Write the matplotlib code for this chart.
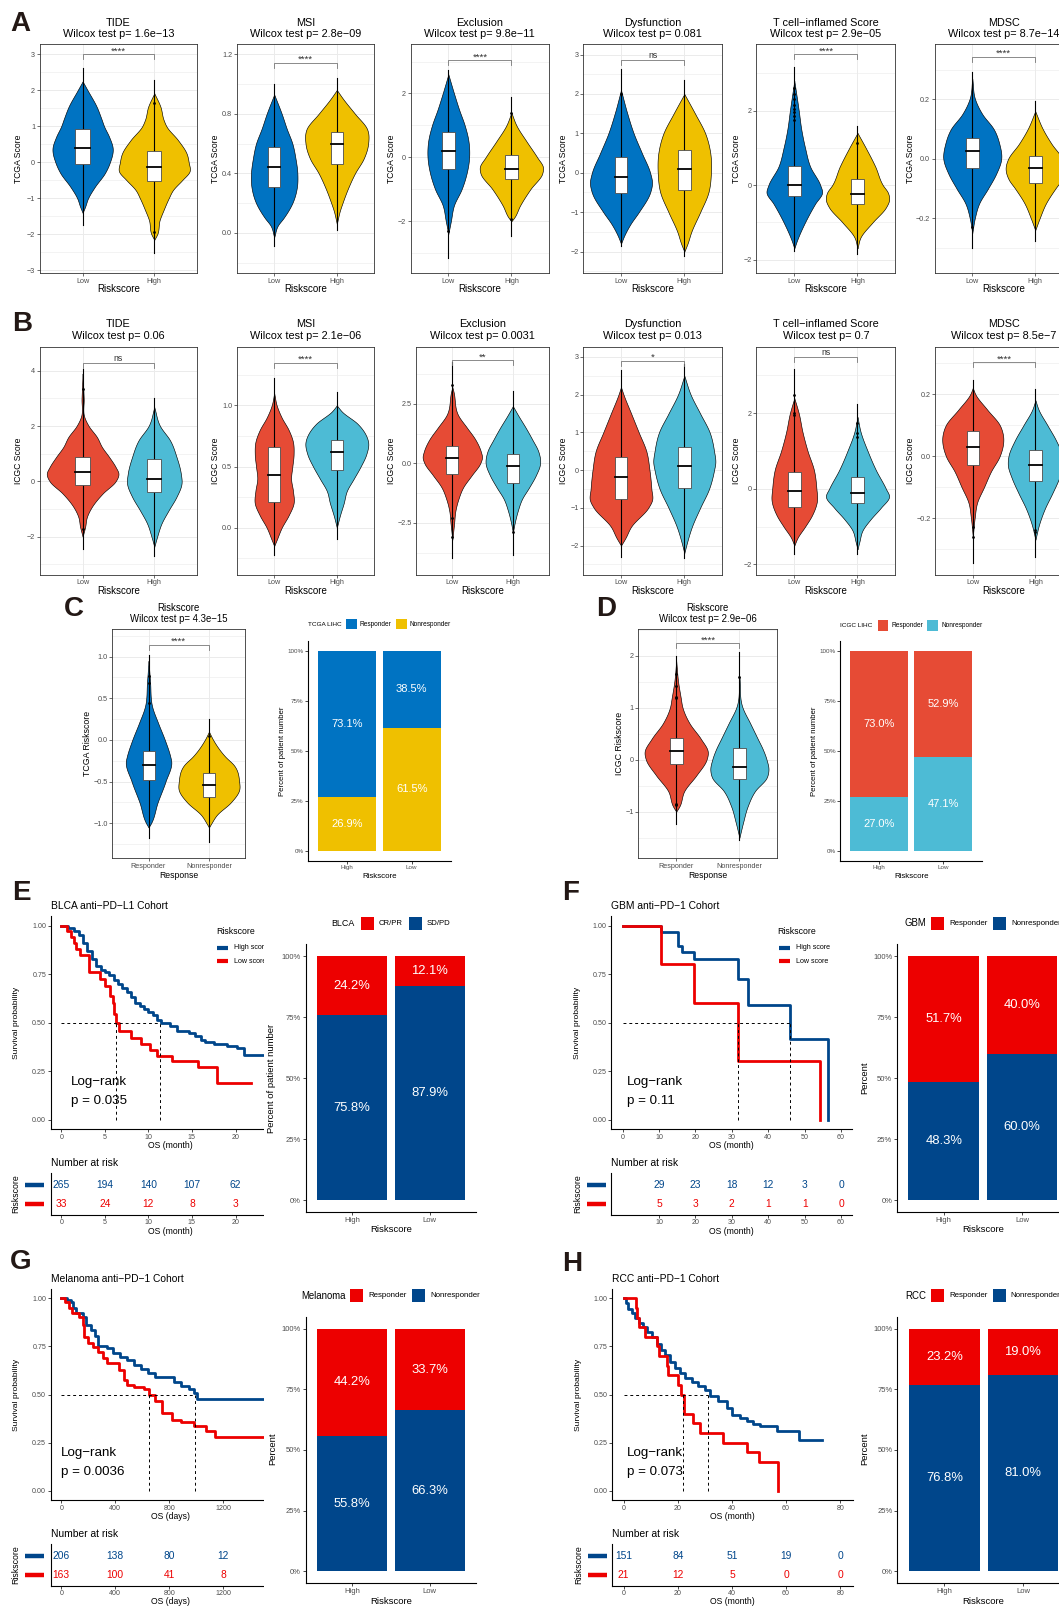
import numpy as np
import matplotlib.pyplot as plt
import matplotlib.transforms as mtransforms
from matplotlib.lines import Line2D
from matplotlib.patches import Rectangle

W, H = 1059, 1607
MINUS = "\u2212"

JCO_BLUE, JCO_YELLOW = "#0073C2", "#EFC000"
NPG_RED, NPG_CYAN = "#E64B35", "#4DBBD5"
LAN_BLUE, LAN_RED = "#00468B", "#ED0000"
GREY30 = "#4D4D4D"

# ---------------- A / B : immune scores by risk group ----------------
score_names = ["TIDE", "MSI", "Exclusion", "Dysfunction", "T cell" + MINUS + "inflamed Score", "MDSC"]
a_pvals = ["1.6e-13", "2.8e-09", "9.8e-11", "0.081", "2.9e-05", "8.7e-14"]
a_sig = ["****", "****", "****", "ns", "****", "****"]
b_pvals = ["0.06", "2.1e-06", "0.0031", "0.013", "0.7", "8.5e-7"]
b_sig = ["ns", "****", "**", "*", "ns", "****"]

a_ylim = [(-3.08, 3.28), (-0.272, 1.267), (-3.63, 3.54), (-2.55, 3.26), (-2.37, 3.78), (-0.385, 0.385)]
a_ticks = [[-3, -2, -1, 0, 1, 2, 3], [0, 0.4, 0.8, 1.2], [-2, 0, 2], [-2, -1, 0, 1, 2, 3], [-2, 0, 2], [-0.2, 0, 0.2]]
a_dec = [0, 1, 0, 0, 0, 1]
a_minor = [0.5, 0.2, 1, 0.5, 1, 0.1]
a_bracket = [3.0, 1.144, 3.04, 2.86, 3.51, 0.343]

# violin outlines: score levels and half widths (Low = blue, High = yellow)
a_low_y = [
    [-1.4, -1.23, -1.0, -0.68, -0.3, 0.0, 0.39, 0.71, 1.0, 1.22, 1.55, 2.0, 2.25],
    [-0.03, 0.05, 0.1, 0.2, 0.3, 0.4, 0.5, 0.6, 0.7, 0.8, 0.93],
    [-2.4, -2.0, -1.5, -1.0, -0.5, 0.0, 0.5, 1.0, 1.5, 2.0, 2.6],
    [-1.8, -1.6, -1.3, -1.0, -0.5, -0.25, 0.0, 0.5, 1.0, 1.5, 2.1],
    [-1.7, -1.5, -1.0, -0.5, -0.2, 0.0, 0.5, 1.0, 1.5, 2.0, 2.8],
    [-0.25, -0.2, -0.15, -0.1, -0.05, 0.0, 0.05, 0.1, 0.15, 0.2, 0.27],
]
a_low_w = [
    [0, 0.035, 0.075, 0.17, 0.31, 0.38, 0.42, 0.37, 0.30, 0.26, 0.195, 0.07, 0],
    [0, 0.06, 0.15, 0.29, 0.36, 0.37, 0.34, 0.29, 0.20, 0.12, 0],
    [0, 0.04, 0.09, 0.21, 0.29, 0.33, 0.32, 0.26, 0.17, 0.09, 0],
    [0, 0.05, 0.15, 0.28, 0.46, 0.49, 0.46, 0.33, 0.20, 0.10, 0],
    [0, 0.04, 0.17, 0.33, 0.44, 0.41, 0.25, 0.17, 0.11, 0.07, 0],
    [0, 0.04, 0.11, 0.25, 0.38, 0.46, 0.43, 0.34, 0.16, 0.045, 0],
]
a_high_y = [
    [-2.15, -2.0, -1.6, -1.32, -1.0, -0.77, -0.49, -0.26, 0.0, 0.25, 0.62, 1.0, 1.18, 1.55, 1.92],
    [0.06, 0.15, 0.2, 0.3, 0.4, 0.5, 0.6, 0.7, 0.8, 0.9, 0.96],
    [-2.0, -1.9, -1.5, -1.0, -0.5, -0.3, 0.0, 0.5, 1.0, 1.4],
    [-2.0, -1.8, -1.5, -1.0, -0.5, 0.0, 0.5, 1.0, 1.5, 2.0],
    [-1.7, -1.4, -1.0, -0.6, -0.4, -0.2, 0.0, 0.5, 1.0, 1.4],
    [-0.24, -0.2, -0.15, -0.1, -0.07, -0.03, 0.0, 0.05, 0.1, 0.16],
]
a_high_w = [
    [0, 0.04, 0.075, 0.13, 0.20, 0.26, 0.39, 0.49, 0.48, 0.45, 0.33, 0.17, 0.13, 0.085, 0],
    [0, 0.05, 0.09, 0.18, 0.29, 0.43, 0.50, 0.48, 0.29, 0.10, 0],
    [0, 0.04, 0.14, 0.30, 0.49, 0.50, 0.41, 0.24, 0.08, 0],
    [0, 0.05, 0.11, 0.25, 0.38, 0.42, 0.41, 0.33, 0.17, 0],
    [0, 0.05, 0.24, 0.45, 0.50, 0.48, 0.40, 0.28, 0.13, 0],
    [0, 0.07, 0.17, 0.32, 0.42, 0.47, 0.43, 0.26, 0.12, 0],
]
a_low_box = [(-0.05, 0.41, 0.94), (0.31, 0.44, 0.58), (-0.37, 0.20, 0.79),
             (-0.52, -0.11, 0.39), (-0.30, 0.0, 0.52), (-0.03, 0.025, 0.07)]
a_high_box = [(-0.53, -0.12, 0.31), (0.46, 0.60, 0.68), (-0.69, -0.36, 0.06),
              (-0.44, 0.09, 0.57), (-0.51, -0.24, 0.15), (-0.08, -0.03, 0.01)]
a_low_rng = [(-1.74, 2.61), (-0.09, 1.0), (-3.16, 2.72), (-1.85, 2.63), (-1.76, 3.18), (-0.30, 0.293)]
a_high_rng = [(-2.53, 2.29), (0.02, 1.04), (-2.46, 1.9), (-2.1, 2.35), (-1.86, 1.58), (-0.276, 0.194)]
a_low_out = [[], [], [-2.3], [1.99], [1.75, 1.85, 1.95, 2.05, 2.15, 2.3, 2.45, 2.6], [-0.23]]
a_high_out = [[1.64, -1.94], [], [1.38, -1.94], [], [1.14], []]

b_ylim = [(-3.39, 4.87), (-0.387, 1.48), (-4.68, 4.89), (-2.78, 3.27), (-2.28, 3.76), (-0.384, 0.353)]
b_ticks = [[-2, 0, 2, 4], [0, 0.5, 1.0], [-2.5, 0, 2.5], [-2, -1, 0, 1, 2, 3], [-2, 0, 2], [-0.2, 0, 0.2]]
b_dec = [0, 1, 1, 0, 0, 1]
b_minor = [1, 0.25, 1.25, 0.5, 1, 0.1]
b_bracket = [4.27, 1.35, 4.32, 2.89, 3.48, 0.302]

b_low_y = [
    [-2.0, -1.65, -1.29, -0.92, -0.44, 0.0, 0.28, 0.52, 0.88, 1.24, 1.6, 2.0, 2.32, 3.0, 3.9],
    [-0.15, -0.1, 0.0, 0.1, 0.2, 0.3, 0.4, 0.5, 0.6, 0.7, 0.8, 0.9, 1.0, 1.1],
    [-3.2, -2.5, -2.0, -1.5, -1.0, -0.5, 0.0, 0.25, 0.5, 1.0, 1.5, 2.0, 3.0, 3.2],
    [-2.0, -1.8, -1.5, -1.0, -0.8, -0.5, 0.0, 0.5, 1.0, 1.5, 2.0, 2.2],
    [-1.5, -1.3, -1.0, -0.7, -0.3, 0.0, 0.5, 1.0, 1.5, 2.0, 2.4],
    [-0.26, -0.2, -0.15, -0.1, -0.05, 0.0, 0.07, 0.1, 0.15, 0.2, 0.22],
]
b_low_w = [
    [0, 0.035, 0.06, 0.13, 0.28, 0.46, 0.50, 0.46, 0.37, 0.27, 0.20, 0.085, 0.025, 0.015, 0],
    [0, 0.04, 0.12, 0.23, 0.31, 0.30, 0.27, 0.29, 0.31, 0.30, 0.23, 0.12, 0.04, 0],
    [0, 0.03, 0.05, 0.10, 0.18, 0.32, 0.46, 0.49, 0.47, 0.38, 0.24, 0.10, 0.02, 0],
    [0, 0.07, 0.16, 0.43, 0.49, 0.48, 0.45, 0.40, 0.28, 0.16, 0.04, 0],
    [0, 0.05, 0.17, 0.28, 0.36, 0.35, 0.31, 0.21, 0.13, 0.07, 0],
    [0, 0.03, 0.07, 0.18, 0.29, 0.43, 0.48, 0.43, 0.23, 0.04, 0],
]
b_high_y = [
    [-2.37, -2.0, -1.53, -1.05, -0.56, -0.08, 0.28, 0.88, 1.48, 2.0, 2.68],
    [0.0, 0.1, 0.2, 0.3, 0.4, 0.5, 0.6, 0.7, 0.75, 0.85, 0.95, 1.0],
    [-2.9, -2.5, -2.0, -1.5, -1.0, -0.5, 0.0, 0.5, 1.0, 1.5, 2.0, 2.4],
    [-2.2, -2.0, -1.5, -1.0, -0.5, 0.0, 0.2, 0.5, 1.0, 1.5, 2.0, 2.5],
    [-1.6, -1.4, -1.1, -0.8, -0.5, -0.2, 0.0, 0.5, 1.0, 1.5, 1.9],
    [-0.27, -0.22, -0.17, -0.12, -0.07, -0.03, 0.0, 0.05, 0.1, 0.15, 0.18],
]
b_high_w = [
    [0, 0.04, 0.10, 0.20, 0.31, 0.38, 0.37, 0.31, 0.22, 0.08, 0],
    [0, 0.05, 0.11, 0.16, 0.27, 0.38, 0.47, 0.50, 0.47, 0.33, 0.08, 0],
    [0, 0.03, 0.08, 0.15, 0.27, 0.38, 0.45, 0.42, 0.32, 0.21, 0.09, 0],
    [0, 0.03, 0.12, 0.25, 0.39, 0.47, 0.49, 0.47, 0.40, 0.25, 0.10, 0],
    [0, 0.03, 0.08, 0.21, 0.37, 0.50, 0.45, 0.29, 0.16, 0.05, 0],
    [0, 0.06, 0.15, 0.27, 0.38, 0.44, 0.43, 0.33, 0.19, 0.05, 0],
]
b_low_box = [(-0.12, 0.35, 0.88), (0.21, 0.43, 0.66), (-0.45, 0.24, 0.72),
             (-0.76, -0.19, 0.35), (-0.49, -0.06, 0.44), (-0.03, 0.03, 0.08)]
b_high_box = [(-0.40, 0.08, 0.80), (0.47, 0.62, 0.72), (-0.83, -0.13, 0.40),
              (-0.47, 0.12, 0.62), (-0.37, -0.11, 0.30), (-0.08, -0.03, 0.02)]
b_low_rng = [(-2.46, 4.08), (-0.22, 1.22), (-3.98, 4.26), (-2.3, 2.66), (-1.72, 3.16), (-0.344, 0.245)]
b_high_rng = [(-2.7, 3.0), (-0.09, 1.11), (-3.84, 3.04), (-2.32, 2.81), (-1.73, 2.25), (-0.327, 0.217)]
b_low_out = [[3.33, -1.71], [], [3.28, -2.3, -3.1], [], [2.47, 2.0, 1.96], [-0.23, -0.26]]
b_high_out = [[], [], [-2.89], [], [1.74, 1.47, 1.37], [-0.24, -0.245]]

# ---------------- C / D : riskscore by response ----------------
c_ylim, c_ticks, c_minor, c_bracket = (-1.42, 1.328), [-1, -0.5, 0, 0.5, 1], 0.25, 1.14
c_resp_y = [-1.05, -1.0, -0.75, -0.5, -0.25, -0.2, 0.0, 0.2, 0.4, 0.7, 0.95]
c_resp_w = [0, 0.04, 0.15, 0.28, 0.375, 0.36, 0.27, 0.16, 0.06, 0.025, 0]
c_non_y = [-1.05, -1.0, -0.9, -0.75, -0.6, -0.5, -0.3, -0.2, 0.0, 0.1]
c_non_w = [0, 0.04, 0.13, 0.36, 0.5, 0.5, 0.41, 0.27, 0.07, 0]
c_boxes = [(-0.48, -0.30, -0.13), (-0.69, -0.54, -0.40)]
c_rngs = [(-1.18, 1.02), (-1.23, 0.25)]
c_outs = [[0.77, 0.68, 0.44], [0.05]]

d_ylim, d_ticks, d_minor, d_bracket = (-1.897, 2.506), [-1, 0, 1, 2], 0.5, 2.24
d_resp_y = [-1.0, -0.9, -0.6, -0.3, 0.0, 0.15, 0.4, 0.7, 1.0, 1.2, 1.5, 1.9]
d_resp_w = [0, 0.05, 0.13, 0.32, 0.48, 0.5, 0.39, 0.21, 0.1, 0.07, 0.03, 0]
d_non_y = [-1.5, -1.2, -0.9, -0.6, -0.35, -0.2, 0.0, 0.2, 0.4, 0.7, 1.0, 1.6]
d_non_w = [0, 0.06, 0.13, 0.25, 0.43, 0.46, 0.43, 0.37, 0.29, 0.17, 0.05, 0]
d_boxes = [(-0.09, 0.17, 0.41), (-0.38, -0.14, 0.22)]
d_rngs = [(-1.24, 2.0), (-1.55, 2.06)]
d_outs = [[1.64, 1.42, 1.2, 1.18, -0.85, -0.88], [1.58]]

# stacked bars (percent, High / Low riskscore)
c_resp, c_non = [73.1, 38.5], [26.9, 61.5]
d_resp, d_non = [73.0, 52.9], [27.0, 47.1]
blca_resp, blca_non = [24.2, 12.1], [75.8, 87.9]
gbm_resp, gbm_non = [51.7, 40.0], [48.3, 60.0]
mel_resp, mel_non = [44.2, 33.7], [55.8, 66.3]
rcc_resp, rcc_non = [23.2, 19.0], [76.8, 81.0]

# ---------------- E-H : Kaplan-Meier curves ----------------
blca_hi_t = [0, 0.8, 1.5, 2.0, 2.5, 3.0, 3.5, 4.0, 4.5, 5.0, 5.5, 6.0, 6.5, 7.0, 7.5, 8.0, 8.5, 9.0,
             9.5, 10.0, 10.5, 11.0, 11.5, 12.5, 13.3, 14.7, 15.3, 16.0, 16.5, 17.5, 19.0, 20.2, 21.0, 23.5]
blca_hi_s = [1.0, 0.99, 0.97, 0.95, 0.91, 0.87, 0.83, 0.79, 0.77, 0.76, 0.745, 0.72, 0.70, 0.68, 0.66,
             0.63, 0.60, 0.585, 0.57, 0.555, 0.54, 0.515, 0.497, 0.485, 0.455, 0.445, 0.43, 0.41, 0.40,
             0.388, 0.38, 0.368, 0.333, 0.333]
blca_lo_t = [0, 0.7, 1.1, 1.5, 1.7, 2.1, 3.2, 4.4, 5.0, 5.6, 5.9, 6.1, 6.3, 6.6, 8.0, 9.2, 10.2, 11.0,
             12.7, 15.7, 17.9, 21.8]
blca_lo_s = [1.0, 0.97, 0.94, 0.91, 0.88, 0.85, 0.76, 0.727, 0.69, 0.636, 0.60, 0.545, 0.50, 0.455,
             0.42, 0.39, 0.36, 0.33, 0.30, 0.27, 0.19, 0.19]
blca_median = [11.3, 6.3]
blca_risk_t = [0, 5, 10, 15, 20]
blca_risk_hi = [265, 194, 140, 107, 62]
blca_risk_lo = [33, 24, 12, 8, 3]

gbm_hi_t = [0, 10.5, 15.3, 16.2, 19.7, 31.7, 34.4, 46.1, 56.3]
gbm_hi_s = [1.0, 0.966, 0.897, 0.862, 0.828, 0.724, 0.590, 0.414, 0.0]
gbm_lo_t = [0, 10.5, 19.7, 31.7, 54.1]
gbm_lo_s = [1.0, 0.8, 0.6, 0.3, 0.0]
gbm_median = [46.1, 31.7]
gbm_risk_t = [10, 20, 30, 40, 50, 60]
gbm_risk_hi = [29, 23, 18, 12, 3, 0]
gbm_risk_lo = [5, 3, 2, 1, 1, 0]

mel_hi_t = [0, 43, 69, 87, 107, 158, 183, 222, 247, 273, 336, 387, 438, 489, 540, 591, 642, 693,
            833, 884, 948, 986, 1004, 1550]
mel_hi_s = [1.0, 0.99, 0.983, 0.948, 0.926, 0.905, 0.862, 0.836, 0.804, 0.754, 0.74, 0.715, 0.694,
            0.68, 0.654, 0.631, 0.614, 0.593, 0.567, 0.545, 0.528, 0.507, 0.479, 0.479]
mel_lo_t = [0, 31, 56, 82, 133, 158, 171, 196, 234, 273, 311, 336, 425, 464, 489, 540, 616, 647,
            693, 744, 820, 884, 986, 1075, 1139, 1550]
mel_lo_s = [1.0, 0.98, 0.948, 0.922, 0.905, 0.862, 0.798, 0.766, 0.749, 0.723, 0.689, 0.663, 0.628,
            0.576, 0.55, 0.54, 0.528, 0.498, 0.464, 0.403, 0.368, 0.355, 0.334, 0.308, 0.277, 0.277]
mel_median = [994, 647]
mel_risk_t = [0, 400, 800, 1200]
mel_risk_hi = [206, 138, 80, 12]
mel_risk_lo = [163, 100, 41, 8]

rcc_hi_t = [0, 0.9, 1.7, 3.0, 4.2, 5.8, 7.3, 8.7, 10.3, 12.2, 13.7, 15.3, 17.1, 19.0, 20.8, 22.6,
            25.1, 27.6, 30.0, 31.9, 34.9, 38.0, 39.9, 43.0, 45.4, 47.9, 50.3, 56.5, 64.9, 73.1]
rcc_hi_s = [1.0, 0.974, 0.943, 0.922, 0.896, 0.87, 0.853, 0.827, 0.798, 0.763, 0.732, 0.706, 0.671,
            0.637, 0.614, 0.585, 0.567, 0.545, 0.524, 0.49, 0.464, 0.429, 0.394, 0.377, 0.36, 0.348,
            0.334, 0.308, 0.265, 0.265]
rcc_lo_t = [0, 4.4, 4.8, 5.7, 7.9, 12.2, 13.0, 15.9, 16.2, 20.2, 21.0, 22.3, 25.5, 28.2, 36.8, 45.4,
            50.1, 57.1]
rcc_lo_s = [1.0, 0.95, 0.90, 0.85, 0.80, 0.75, 0.70, 0.65, 0.60, 0.55, 0.50, 0.40, 0.35, 0.30, 0.25,
            0.20, 0.15, 0.0]
rcc_median = [31.3, 22.0]
rcc_risk_t = [0, 20, 40, 60, 80]
rcc_risk_hi = [151, 84, 51, 19, 0]
rcc_risk_lo = [21, 12, 5, 0, 0]

# ---------------- drawing ----------------
plt.rcParams['font.family'] = ['Liberation Sans', 'DejaVu Sans']
fig = plt.figure(figsize=(W / 100, H / 100), dpi=100)
PX = mtransforms.Affine2D().scale(1 / W, -1 / H).translate(0, 1) + fig.transFigure


def px_axes(x0, y0, x1, y1, z=0):
    ax = fig.add_axes([x0 / W, 1 - y1 / H, (x1 - x0) / W, (y1 - y0) / H])
    ax.set_zorder(z)
    return ax


def ftext(x, y, s, size, **kw):
    kw.setdefault('ha', 'center')
    kw.setdefault('va', 'center')
    fig.text(x, y, s, transform=PX, fontsize=size, **kw)


def fmt(v, dec):
    return f"{v:.{dec}f}".replace('-', MINUS)


def violin(ax, pos, ys, ws, color):
    # cubic hermite through the read-off outline points
    ys = np.asarray(ys, float)
    ws = np.asarray(ws, float)
    m = np.gradient(ws, ys)
    yy = np.linspace(ys[0], ys[-1], 400)
    i = np.clip(np.searchsorted(ys, yy, side='right') - 1, 0, len(ys) - 2)
    h = ys[i + 1] - ys[i]
    t = (yy - ys[i]) / h
    ww = ((2 * t ** 3 - 3 * t ** 2 + 1) * ws[i] + (t ** 3 - 2 * t ** 2 + t) * h * m[i]
          + (-2 * t ** 3 + 3 * t ** 2) * ws[i + 1] + (t ** 3 - t ** 2) * h * m[i + 1])
    ww = np.clip(ww, 0, None)
    ax.fill_betweenx(yy, pos - ww, pos + ww, facecolor=color, edgecolor='black', lw=0.45, zorder=2)


def violin_panel(rect, ylim, ticks, dec, minor, groups, bracket, sig, xlabels):
    ax = px_axes(*rect)
    ax.set_xlim(0.4, 2.6)
    ax.set_ylim(*ylim)
    g0 = np.ceil(ylim[0] / minor - 1e-9) * minor
    for g in np.arange(g0, ylim[1], minor):
        major = np.any(np.isclose(g, ticks))
        ax.axhline(g, color='#EBEBEB', lw=0.7 if major else 0.4, zorder=0.5)
    for x in (1, 2):
        ax.axvline(x, color='#EBEBEB', lw=0.7, zorder=0.5)
    for pos, (ys, ws, bx, rng, outs, col) in zip((1, 2), groups):
        violin(ax, pos, ys, ws, col)
        ax.plot([pos, pos], rng, color='black', lw=0.8, zorder=3)
        ax.add_patch(Rectangle((pos - 0.1, bx[0]), 0.2, bx[2] - bx[0], facecolor='white',
                               edgecolor=GREY30, lw=0.6, zorder=4))
        ax.plot([pos - 0.1, pos + 0.1], [bx[1], bx[1]], color='black', lw=1.3, zorder=5)
        if outs:
            ax.plot([pos] * len(outs), outs, 'o', color='black', ms=2.0, mew=0, zorder=5)
    h = (ylim[1] - ylim[0]) * 5 / (rect[3] - rect[1])
    ax.plot([1, 1, 2, 2], [bracket - h, bracket, bracket, bracket - h], color='#777777', lw=0.6, zorder=3)
    ax.annotate(sig, (1.5, bracket), xytext=(0, 0.3 if sig == 'ns' else -0.8),
                textcoords='offset points', ha='center', va='bottom',
                fontsize=6.3 if sig == 'ns' else 6.8, color='#333333')
    ax.set_yticks(ticks)
    ax.set_yticklabels([fmt(t, dec) for t in ticks])
    ax.set_xticks([1, 2])
    ax.set_xticklabels(xlabels)
    ax.tick_params(length=2, width=0.5, color='#333333', labelsize=5.2, labelcolor=GREY30, pad=1.2)
    for s in ax.spines.values():
        s.set_color('#333333')
        s.set_linewidth(0.6)
    return ax


def classic(ax, size):
    for s in ('top', 'right'):
        ax.spines[s].set_visible(False)
    for s in ('left', 'bottom'):
        ax.spines[s].set_linewidth(0.8)
        ax.spines[s].set_color('black')
    ax.tick_params(length=2, width=0.5, color='black', labelsize=size, labelcolor=GREY30, pad=1.2)


def bar_panel(rect, resp, non, resp_col, non_col, pct_size, tick_size, z=0):
    ax = px_axes(*rect, z=z)
    x = np.array([1, 2])
    b = np.array(non) / 100
    t = np.array(resp) / 100
    ax.bar(x, b, width=0.9, color=non_col, zorder=2)
    ax.bar(x, t, width=0.9, bottom=b, color=resp_col, zorder=2)
    for xi, bi, ti, bp, tp in zip(x, b, t, non, resp):
        ax.text(xi, bi / 2, f"{bp:.1f}%", color='white', ha='center', va='center', fontsize=pct_size, zorder=3)
        ax.text(xi, bi + ti / 2, f"{tp:.1f}%", color='white', ha='center', va='center', fontsize=pct_size, zorder=3)
    ax.set_xlim(0.4, 2.6)
    ax.set_ylim(-0.05, 1.05)
    ax.set_yticks([0, 0.25, 0.5, 0.75, 1.0])
    ax.set_yticklabels(['0%', '25%', '50%', '75%', '100%'])
    ax.set_xticks([1, 2])
    ax.set_xticklabels(['High', 'Low'])
    classic(ax, tick_size)
    return ax


def bar_legend(x_title, y, title, labels, cols, boxes, label_x, title_size, label_size, box_h):
    ftext(x_title, y, title, title_size, ha='left')
    for (bx0, bx1), c, lab, lx in zip(boxes, cols, labels, label_x):
        fig.add_artist(Rectangle((bx0, y - box_h / 2), bx1 - bx0, box_h, transform=PX,
                                 facecolor=c, edgecolor='none', zorder=3))
        ftext(lx, y, lab, label_size, ha='left')


def km_panel(rect, xlim, xticks, hi, lo, medians):
    ax = px_axes(*rect)
    ax.step(hi[0], hi[1], where='post', color=LAN_BLUE, lw=2.0, zorder=3)
    ax.step(lo[0], lo[1], where='post', color=LAN_RED, lw=2.0, zorder=3)
    ax.plot([0, max(medians)], [0.5, 0.5], color='black', lw=0.7, ls=(0, (3, 3)), zorder=4)
    for md in medians:
        ax.plot([md, md], [0, 0.5], color='black', lw=0.7, ls=(0, (3, 3)), zorder=4)
    ax.set_xlim(*xlim)
    ax.set_ylim(-0.05, 1.05)
    ax.set_xticks(xticks)
    ax.set_yticks([0, 0.25, 0.5, 0.75, 1.0])
    ax.set_yticklabels(['0.00', '0.25', '0.50', '0.75', '1.00'])
    classic(ax, 5.1)
    return ax


def km_legend(ax, x_title, y_title, x_line, y1, y2, text_x):
    ax.text(x_title, y_title, 'Riskscore', transform=PX, fontsize=6.3, ha='left', va='center', clip_on=True)
    for y, c, lab in ((y1, LAN_BLUE, 'High score'), (y2, LAN_RED, 'Low score')):
        ax.add_artist(Line2D([x_line, x_line + 11], [y, y], transform=PX, color=c, lw=3,
                             solid_capstyle='butt'))
        ax.text(text_x, y, lab, transform=PX, fontsize=5.1, ha='left', va='center', clip_on=True)


def risk_table(rect, xlim, xticks, t, n_hi, n_lo, bar_x):
    ax = px_axes(*rect)
    ax.set_xlim(*xlim)
    ax.set_ylim(-0.58, 1.63)
    for ti, a, b in zip(t, n_hi, n_lo):
        ax.text(ti, 1, str(a), color=LAN_BLUE, fontsize=7.4, ha='center', va='center')
        ax.text(ti, 0, str(b), color=LAN_RED, fontsize=7.4, ha='center', va='center')
    ax.set_xticks(xticks)
    ax.set_yticks([])
    classic(ax, 5.1)
    y_hi = rect[1] + 12
    y_lo = rect[3] - 11
    fig.add_artist(Line2D(bar_x, [y_hi, y_hi], transform=PX, color=LAN_BLUE, lw=3.2, solid_capstyle='butt'))
    fig.add_artist(Line2D(bar_x, [y_lo, y_lo], transform=PX, color=LAN_RED, lw=3.2, solid_capstyle='butt'))
    return ax


# ---- rows A and B ----
a_x = [(39.6, 197.3), (236.6, 374.4), (410.5, 549.2), (583, 722.3), (756.4, 895.4), (934.5, 1073)]
b_x = [(39.6, 197.3), (236.6, 374.4), (416, 549.2), (583, 722.3), (756.4, 895.4), (935.2, 1073)]
ylab_x = [18.9, 216, 391.6, 563.7, 736.8, 910.2]

for i in range(6):
    x0, x1 = a_x[i]
    groups = [(a_low_y[i], a_low_w[i], a_low_box[i], a_low_rng[i], a_low_out[i], JCO_BLUE),
              (a_high_y[i], a_high_w[i], a_high_box[i], a_high_rng[i], a_high_out[i], JCO_YELLOW)]
    violin_panel((x0, 44.3, x1, 273.3), a_ylim[i], a_ticks[i], a_dec[i], a_minor[i], groups,
                 a_bracket[i], a_sig[i], ['Low', 'High'])
    xc = (x0 + x1) / 2
    ftext(xc, 23.3, score_names[i], 7.8)
    ftext(xc, 34.3, 'Wilcox test p= ' + a_pvals[i].replace('-', MINUS), 7.8)
    ftext(xc, 289.3, 'Riskscore', 7)
    ftext(ylab_x[i], 158.8, 'TCGA Score', 6.2, rotation=90)

    x0, x1 = b_x[i]
    groups = [(b_low_y[i], b_low_w[i], b_low_box[i], b_low_rng[i], b_low_out[i], NPG_RED),
              (b_high_y[i], b_high_w[i], b_high_box[i], b_high_rng[i], b_high_out[i], NPG_CYAN)]
    violin_panel((x0, 346.7, x1, 575), b_ylim[i], b_ticks[i], b_dec[i], b_minor[i], groups,
                 b_bracket[i], b_sig[i], ['Low', 'High'])
    xc = (x0 + x1) / 2
    ftext(xc, 324.3, score_names[i], 7.8)
    ftext(xc, 335.7, 'Wilcox test p= ' + b_pvals[i].replace('-', MINUS), 7.8)
    ftext(xc, 591, 'Riskscore', 7)
    ftext(ylab_x[i], 460.8, 'ICGC Score', 6.2, rotation=90)

# ---- C ----
groups = [(c_resp_y, c_resp_w, c_boxes[0], c_rngs[0], c_outs[0], JCO_BLUE),
          (c_non_y, c_non_w, c_boxes[1], c_rngs[1], c_outs[1], JCO_YELLOW)]
violin_panel((112.3, 629.3, 245.2, 858.3), c_ylim, c_ticks, 1, c_minor, groups, c_bracket, '****',
             ['Responder', 'Nonresponder'])
ftext(178.8, 608, 'Riskscore', 6.9)
ftext(178.8, 619.3, 'Wilcox test p= 4.3e' + MINUS + '15', 6.9)
ftext(178.8, 875, 'Response', 6.2)
ftext(87.8, 743.8, 'TCGA Riskscore', 6.3, rotation=90)

bar_panel((308.2, 641, 450.5, 861), c_resp, c_non, JCO_BLUE, JCO_YELLOW, 8, 4.5)
ftext(379.3, 876, 'Riskscore', 5.7)
ftext(282, 751, 'Percent of patient number', 5.6, rotation=90)
bar_legend(307.5, 624, 'TCGA LIHC', ['Responder', 'Nonresponder'], [JCO_BLUE, JCO_YELLOW],
           [(346, 357), (396, 407)], [360, 410], 4.6, 4.7, 10.5)

# ---- D ----
groups = [(d_resp_y, d_resp_w, d_boxes[0], d_rngs[0], d_outs[0], NPG_RED),
          (d_non_y, d_non_w, d_boxes[1], d_rngs[1], d_outs[1], NPG_CYAN)]
violin_panel((638.3, 629.3, 777.3, 858.3), d_ylim, d_ticks, 0, d_minor, groups, d_bracket, '****',
             ['Responder', 'Nonresponder'])
ftext(707.8, 608, 'Riskscore', 6.9)
ftext(707.8, 619.3, 'Wilcox test p= 2.9e' + MINUS + '06', 6.9)
ftext(707.8, 875, 'Response', 6.2)
ftext(619.4, 743.8, 'ICGC Riskscore', 6.3, rotation=90)

bar_panel((840.4, 641, 982.1, 861), d_resp, d_non, NPG_RED, NPG_CYAN, 8, 4.5)
ftext(911.2, 876, 'Riskscore', 5.7)
ftext(814, 751, 'Percent of patient number', 5.6, rotation=90)
bar_legend(840, 625.3, 'ICGC LIHC', ['Responder', 'Nonresponder'], [NPG_RED, NPG_CYAN],
           [(877.5, 888.3), (927, 938)], [891.7, 941], 4.6, 4.7, 10.5)

# ---- E-H ----
km_cfg = [
    dict(rect=(50.6, 915.9, 290.4, 1129.3), xlim=(-1.23, 26.3), ticks=[0, 5, 10, 15, 20],
         hi=(blca_hi_t, blca_hi_s), lo=(blca_lo_t, blca_lo_s), med=blca_median,
         title='BLCA anti' + MINUS + 'PD' + MINUS + 'L1 Cohort', xlab='OS (month)', p='p = 0.035',
         top=880, lr_x=70.6, leg=(216, 217, 233.5), tab_t=blca_risk_t, tab_hi=blca_risk_hi,
         tab_lo=blca_risk_lo, tab_ticks=[0, 5, 10, 15, 20], bar_x=(25, 44), ylab_x=16.2),
    dict(rect=(611.3, 915.9, 852, 1129.3), xlim=(-3.1, 63.0), ticks=[0, 10, 20, 30, 40, 50, 60],
         hi=(gbm_hi_t, gbm_hi_s), lo=(gbm_lo_t, gbm_lo_s), med=gbm_median,
         title='GBM anti' + MINUS + 'PD' + MINUS + '1 Cohort', xlab='OS (month)', p='p = 0.11',
         top=880, lr_x=626.7, leg=(777.3, 779.3, 795.7), tab_t=gbm_risk_t, tab_hi=gbm_risk_hi,
         tab_lo=gbm_risk_lo, tab_ticks=[10, 20, 30, 40, 50, 60], bar_x=(586.7, 606), ylab_x=577.7),
    dict(rect=(50.6, 1288.7, 290.4, 1500.3), xlim=(-79, 1698), ticks=[0, 400, 800, 1200],
         hi=(mel_hi_t, mel_hi_s), lo=(mel_lo_t, mel_lo_s), med=mel_median,
         title='Melanoma anti' + MINUS + 'PD' + MINUS + '1 Cohort', xlab='OS (days)', p='p = 0.0036',
         top=1250, lr_x=61.3, leg=(215, 217, 233.5), tab_t=mel_risk_t, tab_hi=mel_risk_hi,
         tab_lo=mel_risk_lo, tab_ticks=[0, 400, 800, 1200], bar_x=(25, 44), ylab_x=16.2),
    dict(rect=(612.3, 1288.7, 852.7, 1500.3), xlim=(-4.2, 84.6), ticks=[0, 20, 40, 60, 80],
         hi=(rcc_hi_t, rcc_hi_s), lo=(rcc_lo_t, rcc_lo_s), med=rcc_median,
         title='RCC anti' + MINUS + 'PD' + MINUS + '1 Cohort', xlab='OS (month)', p='p = 0.073',
         top=1250, lr_x=626.7, leg=(777.3, 779.3, 795.7), tab_t=rcc_risk_t, tab_hi=rcc_risk_hi,
         tab_lo=rcc_risk_lo, tab_ticks=[0, 20, 40, 60, 80], bar_x=(588, 606.7), ylab_x=579),
]

for c in km_cfg:
    x0, y0, x1, y1 = c['rect']
    top = c['top']
    ax = km_panel(c['rect'], c['xlim'], c['ticks'], c['hi'], c['lo'], c['med'])
    lx, llx, ltx = c['leg']
    dy = 0 if top == 880 else 7.3
    km_legend(ax, lx, 932 + dy, llx, 947.7 + dy, 961.3 + dy, ltx)
    ftext(x0, y0 - 10, c['title'], 7.4, ha='left')
    ftext(c['lr_x'], y1 - 47.6, 'Log' + MINUS + 'rank', 9.6, ha='left')
    ftext(c['lr_x'], y1 - 28.3, c['p'], 9.6, ha='left')
    xc = (x0 + x1) / 2
    ftext(xc, y1 + 16.4, c['xlab'], 6.2)
    ftext(c['ylab_x'], (y0 + y1) / 2, 'Survival probability', 6.1, rotation=90)
    ty0 = y1 + 43.7
    ftext(x0, ty0 - 9.7, 'Number at risk', 7.4, ha='left')
    risk_table((x0, ty0, x1, ty0 + 41.7), c['xlim'], c['tab_ticks'], c['tab_t'], c['tab_hi'],
               c['tab_lo'], c['bar_x'])
    ftext(xc, ty0 + 58, c['xlab'], 6.2)
    ftext(c['ylab_x'], ty0 + 21, 'Riskscore', 6.3, rotation=90)

# bar panels cover the right part of E and G survival plots
fig.add_artist(Rectangle((263.5, 895), 40, 350, transform=PX, facecolor='white', edgecolor='none', zorder=1))
fig.add_artist(Rectangle((263.5, 1265), 40, 345, transform=PX, facecolor='white', edgecolor='none', zorder=1))

bar_panel((305.5, 944.3, 476.3, 1212.3), blca_resp, blca_non, LAN_RED, LAN_BLUE, 9.4, 5.5, z=2)
ftext(391, 1230, 'Riskscore', 6.8)
ftext(272, 1078, 'Percent of patient number', 6.8, rotation=90)
bar_legend(331, 923.3, 'BLCA', ['CR/PR', 'SD/PD'], [LAN_RED, LAN_BLUE],
           [(361, 374), (409, 422)], [379, 427], 6.4, 5.6, 13.3)

bar_panel((896.7, 944.3, 1069, 1212.3), gbm_resp, gbm_non, LAN_RED, LAN_BLUE, 9.4, 5.5, z=2)
ftext(982.8, 1230, 'Riskscore', 6.8)
ftext(865, 1078, 'Percent', 6.8, rotation=90)
bar_legend(904.3, 923.3, 'GBM', ['Responder', 'Nonresponder'], [LAN_RED, LAN_BLUE],
           [(930.7, 944), (993.3, 1006)], [949, 1011], 6.9, 5.7, 13.3)

bar_panel((305.5, 1316.6, 476.3, 1583.3), mel_resp, mel_non, LAN_RED, LAN_BLUE, 9.4, 5.5, z=2)
ftext(391, 1601, 'Riskscore', 6.8)
ftext(273, 1449, 'Percent', 6.8, rotation=90)
bar_legend(301, 1295.7, 'Melanoma', ['Responder', 'Nonresponder'], [LAN_RED, LAN_BLUE],
           [(350, 363), (412, 425)], [368.5, 430.5], 6.9, 5.7, 13.3)

bar_panel((897.3, 1316.6, 1070, 1583.3), rcc_resp, rcc_non, LAN_RED, LAN_BLUE, 9.4, 5.5, z=2)
ftext(983.6, 1601, 'Riskscore', 6.8)
ftext(865, 1449, 'Percent', 6.8, rotation=90)
bar_legend(905.7, 1295.7, 'RCC', ['Responder', 'Nonresponder'], [LAN_RED, LAN_BLUE],
           [(930.7, 944), (992.7, 1006)], [949.3, 1010], 6.9, 5.7, 13.3)

# panel letters
for lab, x, y in [('A', 10.3, 24), ('B', 12, 324), ('C', 64, 609), ('D', 596, 609),
                  ('E', 12, 892.5), ('F', 561.7, 892.5), ('G', 10, 1261.7), ('H', 561.7, 1264)]:
    ftext(x, y, lab, 20, ha='left', weight='bold', color='#231815')

fig.savefig('out.png', dpi=100)
